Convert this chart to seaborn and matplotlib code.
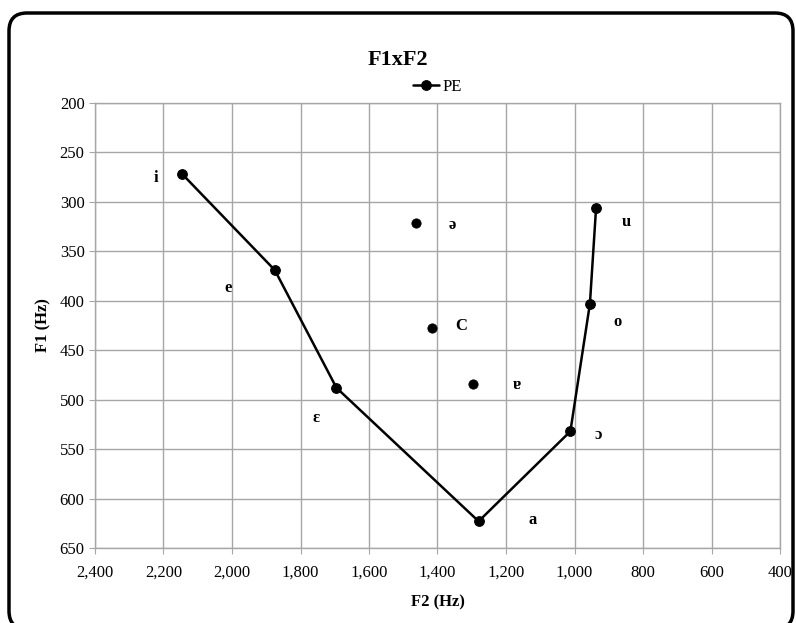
import matplotlib
matplotlib.use("Agg")
import matplotlib.pyplot as plt
import matplotlib.ticker as mticker
from matplotlib.patches import FancyBboxPatch
import pandas as pd
import seaborn as sns

# -------- DATA --------
# connected vowel series (PE)
line_vowels = ["i", "e", "ɛ", "a", "ɔ", "o", "u"]
line_f2 = [2145, 1875, 1695, 1280, 1012, 955, 937]
line_f1 = [272, 369, 488, 623, 532, 403, 306]

# isolated points of the same series
free_vowels = ["ə", "C", "ɐ"]
free_f2 = [1462, 1415, 1295]
free_f1 = [321, 428, 484]

x_ticks = [2400, 2200, 2000, 1800, 1600, 1400, 1200, 1000, 800, 600, 400]
y_ticks = [200, 250, 300, 350, 400, 450, 500, 550, 600, 650]

# label offsets (points) for each vowel
label_offsets = {
    "i": (-19, -3), "e": (-34, -13), "ɛ": (-15, -22), "a": (39, 1),
    "ɔ": (20, -3), "o": (20, -13), "u": (22, -10),
    "ə": (26, -2), "C": (21, 2), "ɐ": (31, -1),
}

df_line = pd.DataFrame({"vowel": line_vowels, "F2": line_f2, "F1": line_f1})
df_free = pd.DataFrame({"vowel": free_vowels, "F2": free_f2, "F1": free_f1})

# -------- PLOT --------
sns.set_style("white")
plt.rcParams["font.family"] = ["Liberation Serif", "DejaVu Serif"]
plt.rcParams["text.color"] = "black"
plt.rcParams["xtick.color"] = "black"
plt.rcParams["ytick.color"] = "black"
plt.rcParams["axes.labelcolor"] = "black"

fig = plt.figure(figsize=(7.96, 6.23), dpi=100)
ax = fig.add_axes([95 / 796, 1 - 548 / 623, 685 / 796, 445 / 623])

# rounded frame around the whole chart (inch coordinates)
frame = FancyBboxPatch((0.09, -0.06), 7.84, 6.16,
                       boxstyle="round,pad=0,rounding_size=0.18",
                       transform=fig.dpi_scale_trans, fill=False,
                       edgecolor="black", linewidth=2.5, clip_on=False)
fig.patches.append(frame)

sns.lineplot(data=df_line, x="F2", y="F1", sort=False, color="black",
             linewidth=1.8, marker="o", markersize=7, markeredgecolor="black",
             label="PE", ax=ax)
sns.scatterplot(data=df_free, x="F2", y="F1", color="black", s=45,
                edgecolor="black", ax=ax, legend=False)

for df in (df_line, df_free):
    for _, r in df.iterrows():
        dx, dy = label_offsets[r["vowel"]]
        ax.annotate(r["vowel"], (r["F2"], r["F1"]), xytext=(dx, dy),
                    textcoords="offset points", ha="center", va="center",
                    fontsize=12, fontweight="bold")

ax.set_xlim(2400, 400)
ax.set_ylim(650, 200)
ax.set_xticks(x_ticks)
ax.set_yticks(y_ticks)
ax.xaxis.set_major_formatter(mticker.StrMethodFormatter("{x:,.0f}"))
ax.grid(True, color="#a6a6a6", linewidth=1)
for s in ax.spines.values():
    s.set_color("#a6a6a6")
    s.set_linewidth(1)
ax.tick_params(axis="both", labelsize=12, length=4, color="#a6a6a6",
               labelcolor="black", direction="out", bottom=True, left=True)
ax.tick_params(axis="x", pad=8)

ax.set_xlabel("F2 (Hz)", fontsize=12, fontweight="bold", labelpad=10)
ax.set_ylabel("F1 (Hz)", fontsize=12, fontweight="bold", labelpad=6)
fig.text(0.5, 1 - 60 / 623, "F1xF2", ha="center", va="center",
         fontsize=16, fontweight="bold", color="black")

ax.legend(loc="lower center", bbox_to_anchor=(0.5, 1.0), frameon=False,
          fontsize=12, handlelength=1.6, handletextpad=0.2,
          borderaxespad=0.1)

fig.savefig("out.png", dpi=100)
